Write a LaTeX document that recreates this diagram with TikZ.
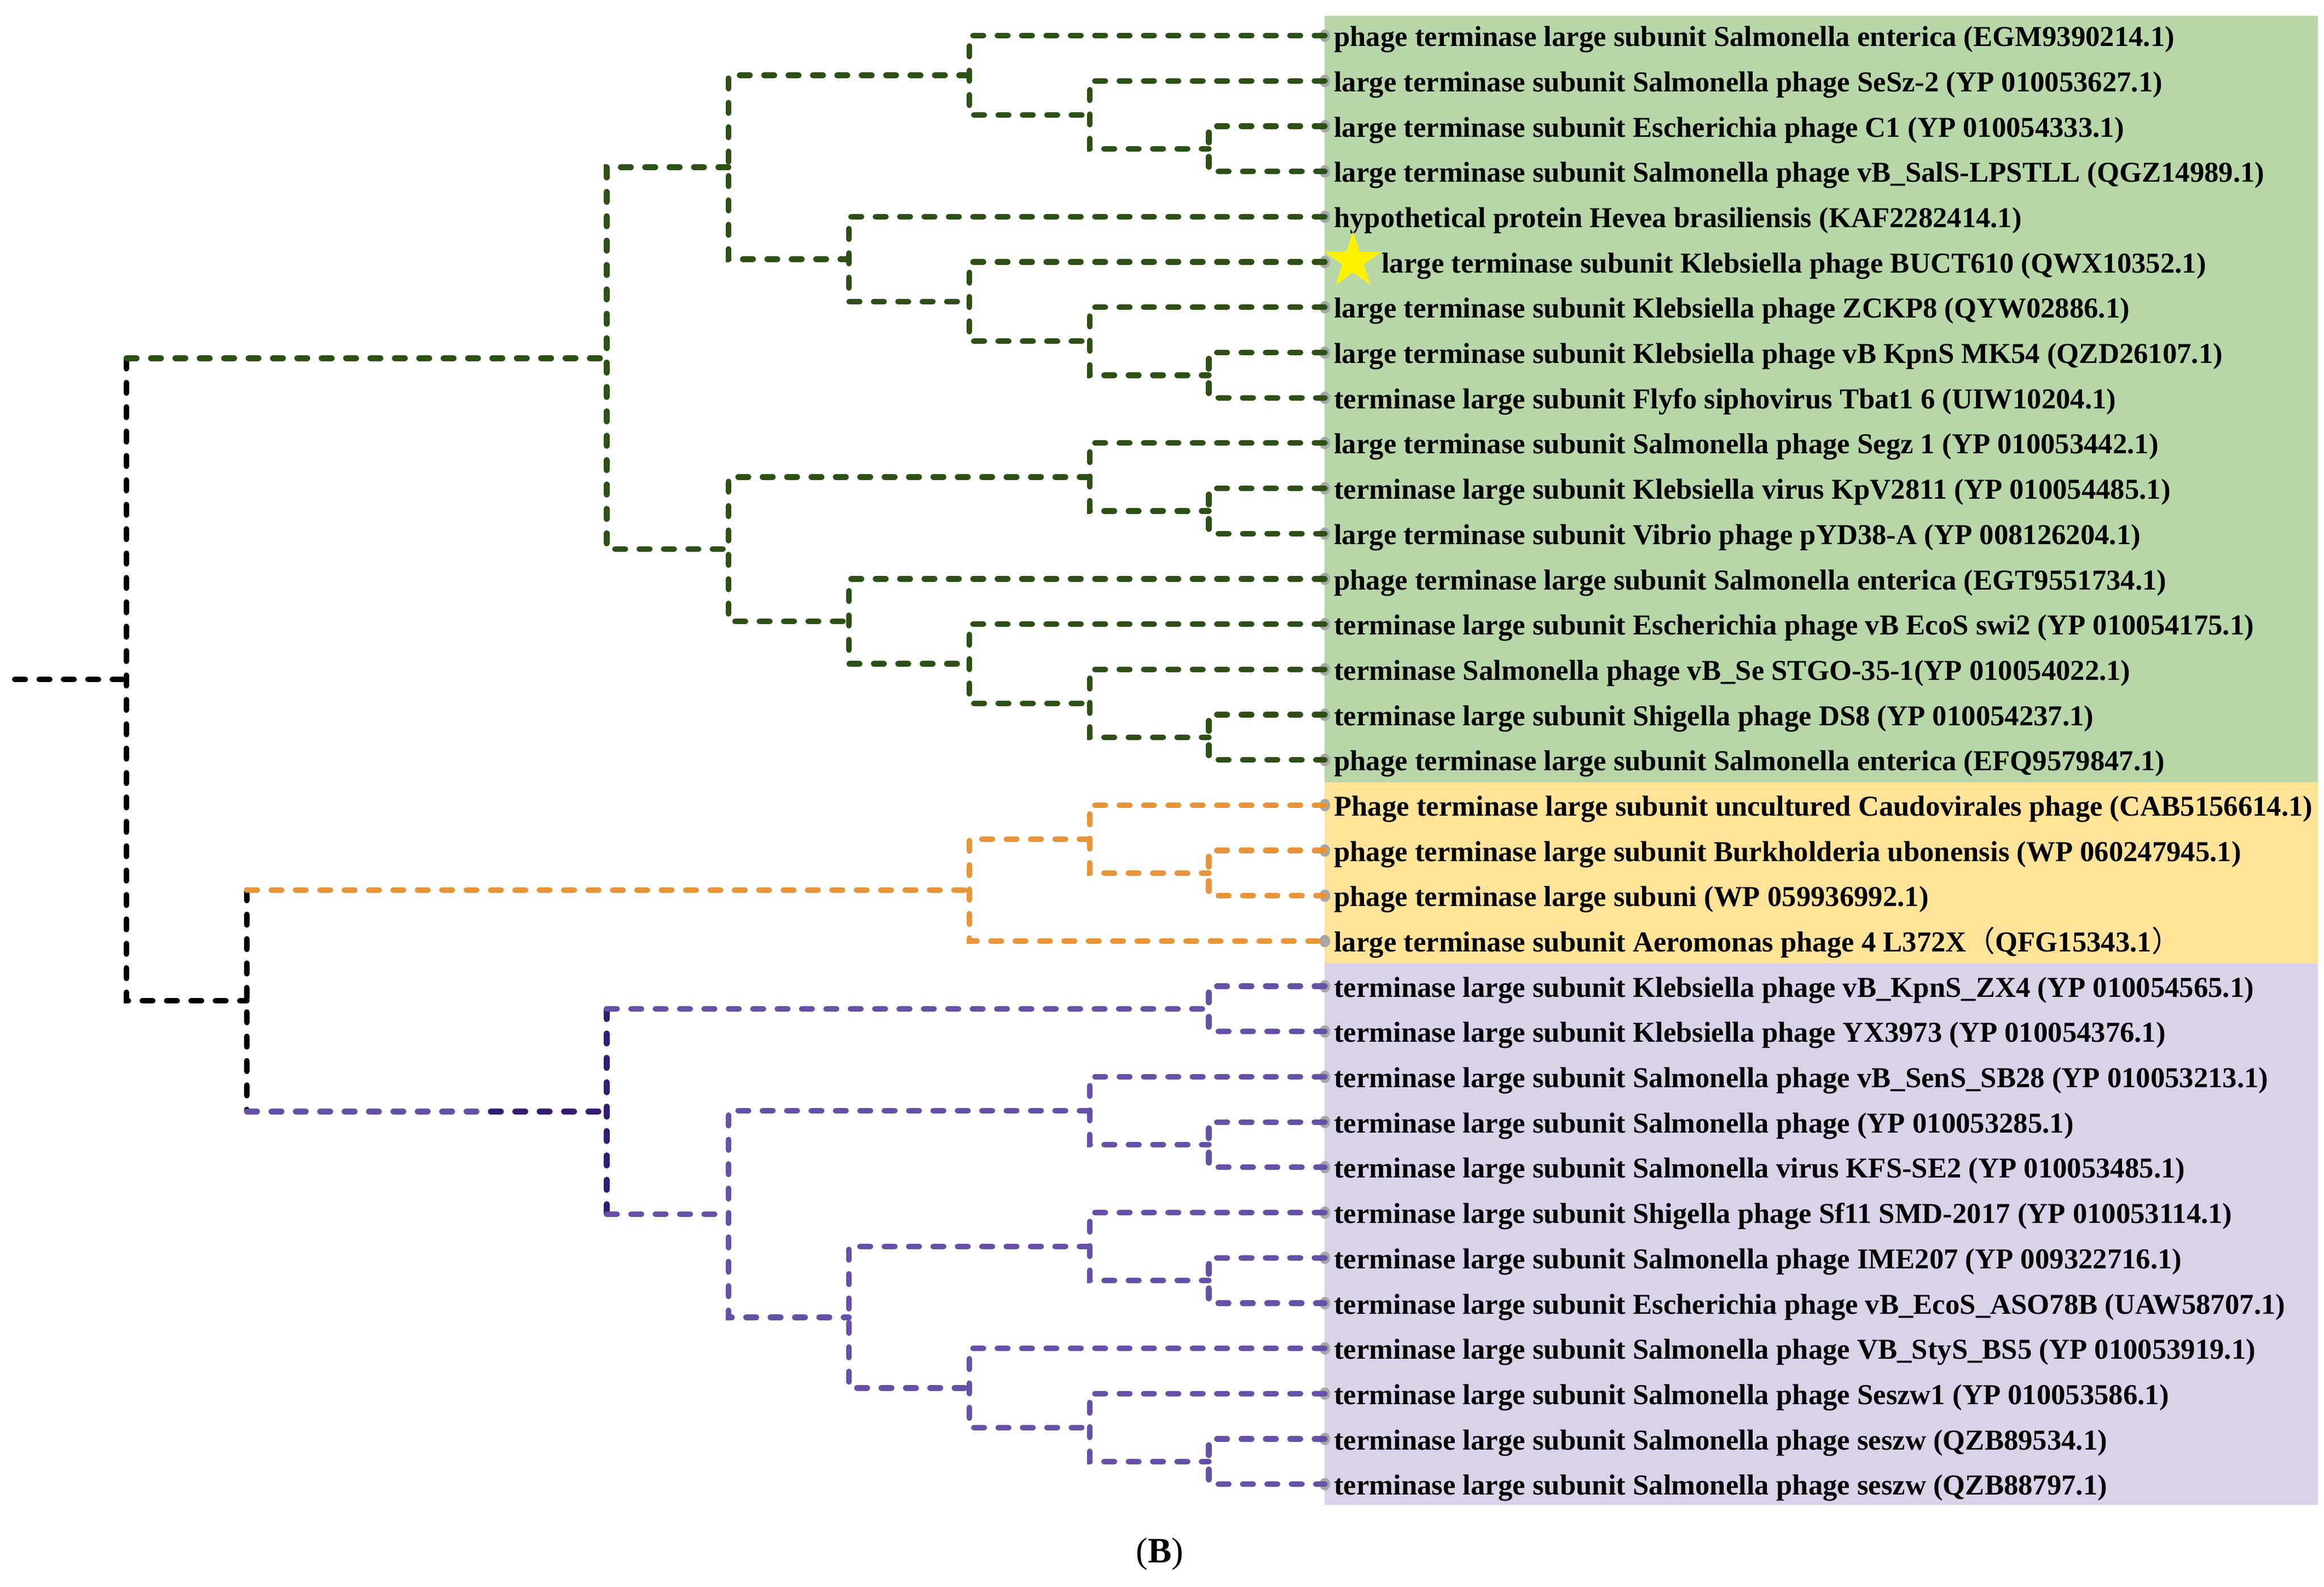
\documentclass[tikz,border=0pt]{standalone}
\usepackage{fontspec}
\setmainfont{Liberation Serif}
\newfontfamily\cjk{Noto Sans CJK SC}
\usetikzlibrary{shapes.geometric}
\definecolor{glc}{RGB}{44,80,22}
\definecolor{olc}{RGB}{232,148,58}
\definecolor{plc}{RGB}{103,80,166}
\definecolor{pdc}{RGB}{53,28,111}
\definecolor{gbg}{RGB}{184,215,168}
\definecolor{obg}{RGB}{254,227,153}
\definecolor{pbg}{RGB}{217,210,232}
\definecolor{dotc}{RGB}{166,166,166}
\tikzset{
  br/.style={line width=3.8pt, line cap=round, dash pattern=on 7pt off 9.4pt},
  gl/.style={br, draw=glc},
  ol/.style={br, draw=olc},
  pl/.style={br, draw=plc},
  pd/.style={br, draw=pdc},
  kl/.style={br, draw=black},
  tipdot/.style={fill=dotc},
  lab/.style={anchor=base west, inner sep=0pt, yshift=-7.2pt,
    font=\fontsize{19.4}{23}\selectfont\bfseries},
}
\begin{document}
\begin{tikzpicture}[x=1pt,y=-1pt]
\useasboundingbox (0,0) rectangle (1563,1067);
% backgrounds
\fill[gbg] (891,10.7) rectangle (1559,526);
\fill[obg] (891,526) rectangle (1559,648);
\fill[pbg] (891,648) rectangle (1559,1012);
% tips
\foreach \i/\y in {1/24.0,2/54.4,3/84.9,4/115.3,5/145.8,6/176.2,7/206.6,8/237.1,9/267.5,10/297.9,11/328.4,12/358.8,13/389.3,14/419.7,15/450.1,16/480.6,17/511.0,18/541.4,19/571.9,20/602.3,21/632.8,22/663.2,23/693.6,24/724.1,25/754.5,26/784.9,27/815.4,28/845.8,29/876.3,30/906.7,31/937.1,32/967.6,33/998.0}
  {\coordinate (t\i) at (891,\y);}
% internal nodes
\coordinate (R0) at (10,456.9);
\coordinate (R) at (85,456.9);
\coordinate (G) at (408,240.88);
\coordinate (Bot) at (166,672.97);
\coordinate (A) at (490,112.47);
\coordinate (B) at (490,369.28);
\coordinate (A1) at (652,50.63);
\coordinate (a2) at (733,77.25);
\coordinate (a3) at (813,100.1);
\coordinate (A2) at (571,174.31);
\coordinate (a5) at (652,202.83);
\coordinate (a6) at (733,229.45);
\coordinate (a7) at (813,252.3);
\coordinate (B1) at (733,320.75);
\coordinate (b2) at (813,343.6);
\coordinate (B2) at (571,417.81);
\coordinate (b4) at (652,446.33);
\coordinate (b5) at (733,472.95);
\coordinate (b6) at (813,495.8);
\coordinate (O) at (652,598.53);
\coordinate (o2) at (733,564.25);
\coordinate (o3) at (813,587.1);
\coordinate (P) at (408,747.4);
\coordinate (pm) at (330,747.4);
\coordinate (P1) at (813,678.4);
\coordinate (P2) at (490,816.4);
\coordinate (P2a) at (733,746.9);
\coordinate (p3) at (813,769.7);
\coordinate (P2b) at (571,885.8);
\coordinate (P2b1) at (733,838.2);
\coordinate (p5) at (813,861.05);
\coordinate (P2b2) at (652,933.3);
\coordinate (p7) at (733,959.95);
\coordinate (p8) at (813,982.8);
% tip dots
\foreach \i in {1,...,33} {\fill[tipdot] (t\i) ellipse (3.6 and 4.2);}
% root
\draw[kl] (R0) -- (R);
\draw[kl] (R |- G) -- (R |- Bot) -- (Bot);
\draw[gl] (R |- G) -- (G);
\draw[kl] (Bot |- O) -- (Bot |- P);
\draw[ol] (Bot |- O) -- (O);
\draw[pl] (Bot |- P) -- (pm);
\draw[pd] (pm) -- (P);
% green clade
\foreach \n/\u/\d in {G/A/B,A/A1/A2,A1/t1/a2,a2/t2/a3,a3/t3/t4,A2/t5/a5,a5/t6/a6,a6/t7/a7,a7/t8/t9,B/B1/B2,B1/t10/b2,b2/t11/t12,B2/t13/b4,b4/t14/b5,b5/t15/b6,b6/t16/t17}
  {\draw[gl] (\u) -| (\n) |- (\d);}
% orange clade
\foreach \n/\u/\d in {O/o2/t21,o2/t18/o3,o3/t19/t20}
  {\draw[ol] (\u) -| (\n) |- (\d);}
% purple clade
\draw[pd] (P |- P1) -- (P |- P2);
\draw[pl] (P |- P1) -- (P1);
\draw[pl] (P |- P2) -- (P2);
\foreach \n/\u/\d in {P1/t22/t23,P2/P2a/P2b,P2a/t24/p3,p3/t25/t26,P2b/P2b1/P2b2,P2b1/t27/p5,p5/t28/t29,P2b2/t30/p7,p7/t31/p8,p8/t32/t33}
  {\draw[pl] (\u) -| (\n) |- (\d);}
% labels
\node[lab] (l1) at (897,24.0) {phage terminase large subunit Salmonella enterica (EGM9390214.1)};
\node[lab] (l2) at (897,54.4) {large terminase subunit Salmonella phage SeSz-2 (YP 010053627.1)};
\node[lab] (l3) at (897,84.9) {large terminase subunit Escherichia phage C1 (YP 010054333.1)};
\node[lab] (l4) at (897,115.3) {large terminase subunit Salmonella phage vB\_SalS-LPSTLL (QGZ14989.1)};
\node[lab] (l5) at (897,145.8) {hypothetical protein Hevea brasiliensis (KAF2282414.1)};
\node[lab] (l6) at (929,176.2) {large terminase subunit Klebsiella phage BUCT610 (QWX10352.1)};
\node[lab] (l7) at (897,206.6) {large terminase subunit Klebsiella phage ZCKP8 (QYW02886.1)};
\node[lab] (l8) at (897,237.1) {large terminase subunit Klebsiella phage vB KpnS MK54 (QZD26107.1)};
\node[lab] (l9) at (897,267.5) {terminase large subunit Flyfo siphovirus Tbat1 6 (UIW10204.1)};
\node[lab] (l10) at (897,297.9) {large terminase subunit Salmonella phage Segz 1 (YP 010053442.1)};
\node[lab] (l11) at (897,328.4) {terminase large subunit Klebsiella virus KpV2811 (YP 010054485.1)};
\node[lab] (l12) at (897,358.8) {large terminase subunit Vibrio phage pYD38-A (YP 008126204.1)};
\node[lab] (l13) at (897,389.3) {phage terminase large subunit Salmonella enterica (EGT9551734.1)};
\node[lab] (l14) at (897,419.7) {terminase large subunit Escherichia phage vB EcoS swi2 (YP 010054175.1)};
\node[lab] (l15) at (897,450.1) {terminase Salmonella phage vB\_Se STGO-35-1(YP 010054022.1)};
\node[lab] (l16) at (897,480.6) {terminase large subunit Shigella phage DS8 (YP 010054237.1)};
\node[lab] (l17) at (897,511.0) {phage terminase large subunit Salmonella enterica (EFQ9579847.1)};
\node[lab] (l18) at (897,541.4) {Phage terminase large subunit uncultured Caudovirales phage (CAB5156614.1)};
\node[lab] (l19) at (897,571.9) {phage terminase large subunit Burkholderia ubonensis (WP 060247945.1)};
\node[lab] (l20) at (897,602.3) {phage terminase large subuni (WP 059936992.1)};
\node[lab] (l21) at (897,632.8) {large terminase subunit Aeromonas phage 4 L372X{\cjk\mdseries （}QFG15343.1{\cjk\mdseries ）}};
\node[lab] (l22) at (897,663.2) {terminase large subunit Klebsiella phage vB\_KpnS\_ZX4 (YP 010054565.1)};
\node[lab] (l23) at (897,693.6) {terminase large subunit Klebsiella phage YX3973 (YP 010054376.1)};
\node[lab] (l24) at (897,724.1) {terminase large subunit Salmonella phage vB\_SenS\_SB28 (YP 010053213.1)};
\node[lab] (l25) at (897,754.5) {terminase large subunit Salmonella phage (YP 010053285.1)};
\node[lab] (l26) at (897,784.9) {terminase large subunit Salmonella virus KFS-SE2 (YP 010053485.1)};
\node[lab] (l27) at (897,815.4) {terminase large subunit Shigella phage Sf11 SMD-2017 (YP 010053114.1)};
\node[lab] (l28) at (897,845.8) {terminase large subunit Salmonella phage IME207 (YP 009322716.1)};
\node[lab] (l29) at (897,876.3) {terminase large subunit Escherichia phage vB\_EcoS\_ASO78B (UAW58707.1)};
\node[lab] (l30) at (897,906.7) {terminase large subunit Salmonella phage VB\_StyS\_BS5 (YP 010053919.1)};
\node[lab] (l31) at (897,937.1) {terminase large subunit Salmonella phage Seszw1 (YP 010053586.1)};
\node[lab] (l32) at (897,967.6) {terminase large subunit Salmonella phage seszw (QZB89534.1)};
\node[lab] (l33) at (897,998.0) {terminase large subunit Salmonella phage seszw (QZB88797.1)};
% star
\node[star, star points=5, star point ratio=2.618, minimum size=40pt, inner sep=0pt, fill=yellow] (star) at (910,175.5) {};
% panel label
\node[inner sep=0pt, font=\fontsize{24}{28}\selectfont] (panel) at (780,1045) {(\textbf{B})};
\end{tikzpicture}
\end{document}
